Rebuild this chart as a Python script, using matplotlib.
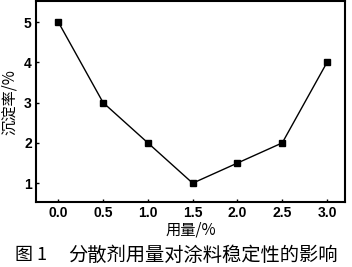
import matplotlib
matplotlib.use("Agg")
import matplotlib.pyplot as plt

plt.rcParams['font.family'] = ['Liberation Sans', 'Noto Sans CJK SC', 'DejaVu Sans']
cjk = ['Noto Sans CJK SC', 'DejaVu Sans']

# dosage (%) vs sedimentation rate (%)
dosage = [0.0, 0.5, 1.0, 1.5, 2.0, 2.5, 3.0]
sediment = [5.0, 3.0, 2.0, 1.0, 1.5, 2.0, 4.0]
x_ticks = [0.0, 0.5, 1.0, 1.5, 2.0, 2.5, 3.0]
y_ticks = [1, 2, 3, 4, 5]

fig = plt.figure(figsize=(3.52, 2.67), dpi=100, facecolor="white")
ax = fig.add_axes([0.102, 0.243, 0.878, 0.753])

ax.plot(dosage, sediment, color="black", linewidth=1.0,
        marker="s", markersize=4, markerfacecolor="black")

ax.set_xlim(-0.25, 3.2)
ax.set_ylim(0.53, 5.52)
ax.set_xticks(x_ticks)
ax.set_xticklabels([f"{v:.1f}" for v in x_ticks])
ax.set_yticks(y_ticks)
ax.tick_params(direction="in", length=2, width=1, labelsize=10, pad=3)
for lbl in ax.get_xticklabels() + ax.get_yticklabels():
    lbl.set_fontweight("bold")
for s in ax.spines.values():
    s.set_linewidth(1.5)

ax.set_xlabel("用量/%", fontsize=11, labelpad=1, family=cjk)
ax.set_ylabel("沉淀率/%", fontsize=11, labelpad=4, family=cjk)

# caption: figure number at left, title after a wide gap
fig.text(15 / 352, 0.045, "图 1", ha="left", va="center",
         fontsize=13, family=cjk)
fig.text(68 / 352, 0.045, "分散剂用量对涂料稳定性的影响", ha="left",
         va="center", fontsize=13.9, family=cjk)

fig.savefig("out.png", dpi=100, facecolor="white")
